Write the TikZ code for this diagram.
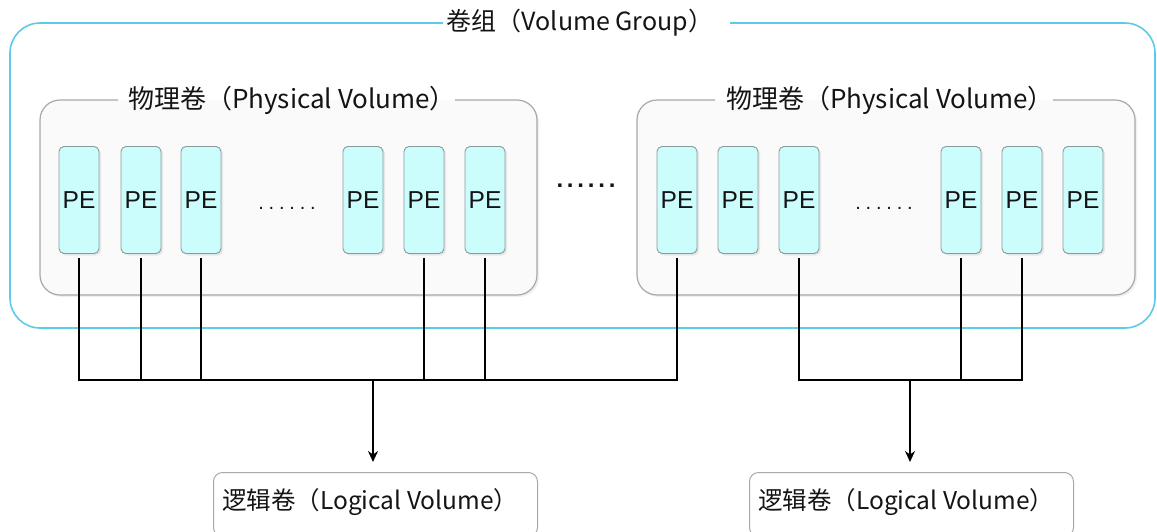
\documentclass[tikz,border=0pt]{standalone}
\usepackage{fontspec}
\setmainfont{Liberation Sans}
\newfontfamily\cjk{Noto Sans CJK SC}
\usetikzlibrary{arrows.meta,shadows}
\definecolor{vgblue}{HTML}{5CCBEA}
\definecolor{pvgray}{HTML}{A8A8A8}
\definecolor{pefill}{HTML}{CCFDFD}
\definecolor{pedraw}{HTML}{8A9A9A}
\definecolor{txt}{HTML}{141414}
\tikzset{
  vgline/.style={draw=vgblue, line width=1.6pt, rounded corners=30pt},
  pvline/.style={draw=pvgray, line width=1.2pt, rounded corners=20pt},
  pvfill/.style={fill=black!2, rounded corners=20pt},
  ttl/.style={font=\cjk\fontsize{26}{30}\selectfont, text=txt, inner sep=0pt},
  pebox/.style={draw=pedraw, line width=0.9pt, fill=pefill, rounded corners=5pt,
    minimum width=40pt, minimum height=107pt, inner sep=0pt,
    font=\fontsize{24.5}{28}\selectfont, text=txt,
    drop shadow={shadow xshift=2pt, shadow yshift=-2pt, opacity=0.15}},
  conn/.style={draw=black, line width=2pt},
  lvbox/.style={draw=pvgray, line width=1pt, rounded corners=9pt, fill=white,
    minimum width=324pt, minimum height=64pt, anchor=north west, inner sep=0pt},
  lvtext/.style={font=\cjk\fontsize{24.5}{30}\selectfont, text=txt, inner sep=0pt, anchor=west},
  dots/.style={font=\fontsize{20}{24}\selectfont, text=txt, inner sep=0pt},
}
\newcommand\pdots{.\kern4.8pt.\kern4.8pt.\kern4.8pt.\kern4.8pt.\kern4.8pt.}
\newcommand\bdots{.\kern3.8pt.\kern3.8pt.\kern3.8pt.\kern3.8pt.\kern3.8pt.}
\begin{document}
\begin{tikzpicture}[x=1pt,y=-1pt]
\useasboundingbox[fill=white] (0,0) rectangle (1157,531);

% Volume group
\draw[vgline] (443,23) -- (10,23) -- (10,328) -- (1155,328) -- (1155,23) -- (730,23);
\node[ttl, font=\cjk\fontsize{25}{30}\selectfont] (vgt) at (580,23) {卷组（Volume Group）};

% Physical volumes
\fill[pvfill, drop shadow={shadow xshift=2pt, shadow yshift=-2pt, opacity=0.12}] (40,100) rectangle (537,295);
\draw[pvline] (118,100) -- (40,100) -- (40,295) -- (537,295) -- (537,100) -- (455,100);
\node[ttl] (pv1t) at (292,100) {物理卷（Physical Volume）};

\fill[pvfill, drop shadow={shadow xshift=2pt, shadow yshift=-2pt, opacity=0.12}] (637,100) rectangle (1135,295);
\draw[pvline] (715,100) -- (637,100) -- (637,295) -- (1135,295) -- (1135,100) -- (1053,100);
\node[ttl] (pv2t) at (890,100) {物理卷（Physical Volume）};

% PEs, left PV
\node[pebox] (a1) at (79,200) {PE};
\node[pebox] (a2) at (141,200) {PE};
\node[pebox] (a3) at (201,200) {PE};
\node[pebox] (a4) at (363,200) {PE};
\node[pebox] (a5) at (424,200) {PE};
\node[pebox] (a6) at (485,200) {PE};
\node[dots] (d1) at (287,208) {\pdots};

% PEs, right PV
\node[pebox] (b1) at (677,200) {PE};
\node[pebox] (b2) at (738,200) {PE};
\node[pebox] (b3) at (799,200) {PE};
\node[pebox] (b4) at (961,200) {PE};
\node[pebox] (b5) at (1022,200) {PE};
\node[pebox] (b6) at (1083,200) {PE};
\node[dots] (d2) at (884,208) {\pdots};

\node[dots, font=\bfseries\fontsize{24}{28}\selectfont] (dm) at (586,186) {\bdots};

% Logical volumes
\node[lvbox] (lv1) at (213,472) {};
\node[lvtext] (lv1t) at (222,502) {逻辑卷（Logical Volume）};
\node[lvbox] (lv2) at (749,472) {};
\node[lvtext] (lv2t) at (758,502) {逻辑卷（Logical Volume）};

% Connectors
\coordinate (j1) at (373,380);
\coordinate (j2) at (910,380);
\foreach \n in {a1,a2,a3,a5,a6,b1}{
  \draw[conn] ([yshift=-4pt]\n.south) -- (\n.south |- j1);
}
\draw[conn] ([xshift=-1pt]a1.south |- j1) -- ([xshift=1pt]b1.south |- j1);
\foreach \n in {b3,b4,b5}{
  \draw[conn] ([yshift=-4pt]\n.south) -- (\n.south |- j2);
}
\draw[conn] ([xshift=-1pt]b3.south |- j2) -- ([xshift=1pt]b5.south |- j2);
\draw[conn, -{Stealth[length=11pt,width=10pt]}] (j1) -- ([yshift=10pt]lv1.north -| j1);
\draw[conn, -{Stealth[length=11pt,width=10pt]}] (j2) -- ([yshift=10pt]lv2.north -| j2);
\end{tikzpicture}
\end{document}
